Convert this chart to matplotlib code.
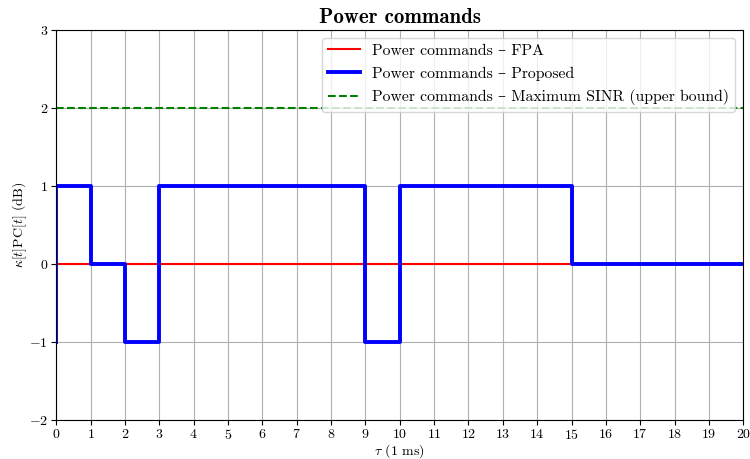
import matplotlib
matplotlib.use("Agg")
import matplotlib.pyplot as plt
import numpy as np

plt.rcParams['font.family'] = ['cmr10', 'DejaVu Serif']
plt.rcParams['mathtext.fontset'] = 'cm'
plt.rcParams['axes.formatter.use_mathtext'] = True
plt.rcParams['axes.unicode_minus'] = True

t = list(range(0, 21))
fpa = [0] * 21
proposed = [-1, 1, 0, -1, 1, 1, 1, 1, 1, 1, -1, 1, 1, 1, 1, 1, 0, 0, 0, 0, 0]
upper = [2] * 21

fig = plt.figure(figsize=(7.5, 4.59), dpi=100)
ax = fig.add_axes([0.075, 0.085, 0.916, 0.85])

ax.plot(t, fpa, color='red', lw=1.5, drawstyle='steps-pre', label='Power commands – FPA')
ax.plot(t, proposed, color='blue', lw=2.8, drawstyle='steps-pre', label='Power commands – Proposed')
ax.plot(t, upper, color='green', lw=1.5, ls='--', drawstyle='steps-pre',
        label='Power commands – Maximum SINR (upper bound)')

ax.set_xlim(0, 20)
ax.set_ylim(-2, 3)
ax.set_xticks(range(0, 21))
ax.set_yticks(range(-2, 4))
ax.grid(True, color='#b0b0b0', lw=0.8)
ax.tick_params(labelsize=10, length=3.5, pad=2.5)
ax.set_xlabel(r'$\tau$ (1 ms)', fontsize=10, labelpad=0)
ax.set_ylabel(r'$\kappa[t]$PC$[t]$ (dB)', fontsize=10, labelpad=0)
ax.set_title('Power commands', fontsize=15, fontfamily='cmb10', pad=5)
ax.legend(loc='upper right', fontsize=11.3, labelspacing=0.55)

fig.savefig('out.png', dpi=100)
